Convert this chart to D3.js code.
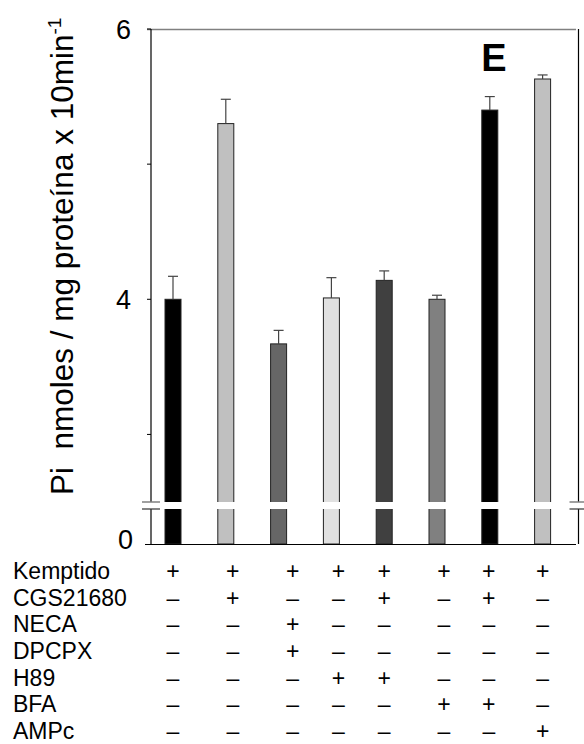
<!DOCTYPE html>
<html>
<head>
<meta charset="utf-8">
<script src="https://cdn.jsdelivr.net/npm/d3@7"></script>
<style>
  html, body { margin: 0; padding: 0; background: #fff; }
  svg { display: block; font-family: "Liberation Sans", Arial, sans-serif; }
</style>
</head>
<body>
<svg id="chart" width="584" height="744"></svg>
<script>
// Phosphate release (Pi nmoles / mg protein x 10 min^-1) per treatment group
const groups = ["g1", "g2", "g3", "g4", "g5", "g6", "g7", "g8"];
const values = [4.00, 5.30, 3.67, 4.01, 4.14, 4.00, 5.40, 5.63];
const errors = [0.17, 0.18, 0.10, 0.15, 0.07, 0.03, 0.10, 0.03];

// Treatment table: which compounds were present in each group
const treatments = ["Kemptido", "CGS21680", "NECA", "DPCPX", "H89", "BFA", "AMPc"];
const presence = [
  ["+", "+", "+", "+", "+", "+", "+", "+"],
  ["–", "+", "–", "–", "+", "–", "+", "–"],
  ["–", "–", "+", "–", "–", "–", "–", "–"],
  ["–", "–", "+", "–", "–", "–", "–", "–"],
  ["–", "–", "–", "+", "+", "–", "–", "–"],
  ["–", "–", "–", "–", "–", "+", "+", "–"],
  ["–", "–", "–", "–", "–", "–", "–", "+"]
];

// Axis ticks (broken axis: 0 below the break, 2.5–6 above)
const upperTicks = [3, 4, 5, 6];
const upperTickLabels = ["4", "6"];
const lowerTickLabels = ["0"];

// Styling
const barFills = ["#000000", "#c0c0c0", "#666666", "#e0e0e0", "#404040", "#808080", "#000000", "#c0c0c0"];
const columnNudge = [0, 7, 14, 7, 0, 7, -1, 0];

const svg = d3.select("#chart");

const axLeft = 151, axRight = 578.5, plotTop = 29, plotBottom = 544;
const breakTop = 502, breakBottom = 509;

const x = d3.scalePoint().domain(groups).range([146.6, 569]).padding(0.5);
const barW = 16;

// Upper segment of the broken axis
const y = d3.scaleLinear().domain([2.5, 6]).range([breakTop, plotTop]);
// Lower segment: from 0 up to the break
const yLow = d3.scaleLinear().domain([0, 0.26]).range([plotBottom, breakBottom]);

// Bars (full height, the break band is blanked afterwards)
const gBars = svg.append("g");
gBars.selectAll("rect")
  .data(groups)
  .join("rect")
  .attr("x", d => x(d) - barW / 2)
  .attr("width", barW)
  .attr("y", (d, i) => y(values[i]))
  .attr("height", (d, i) => yLow(0) - y(values[i]))
  .attr("fill", (d, i) => barFills[i])
  .attr("stroke", "#222")
  .attr("stroke-width", 1);

// Error bars (upper side only)
const gErr = svg.append("g").attr("stroke", "#444").attr("stroke-width", 1.2);
groups.forEach((g, i) => {
  const cx = x(g);
  gErr.append("line")
    .attr("x1", cx).attr("x2", cx)
    .attr("y1", y(values[i])).attr("y2", y(values[i] + errors[i]));
  gErr.append("line")
    .attr("x1", cx - 5).attr("x2", cx + 5)
    .attr("y1", y(values[i] + errors[i])).attr("y2", y(values[i] + errors[i]));
});

// Top frame line
svg.append("line")
  .attr("x1", 147).attr("x2", 576)
  .attr("y1", plotTop + 0.5).attr("y2", plotTop + 0.5)
  .attr("stroke", "#808080").attr("stroke-width", 1.5);

// Left and right axis lines (interrupted at the break)
[axLeft, axRight].forEach(ax => {
  svg.append("line").attr("x1", ax).attr("x2", ax)
    .attr("y1", plotTop).attr("y2", breakTop)
    .attr("stroke", "#000").attr("stroke-width", 1.2);
  svg.append("line").attr("x1", ax).attr("x2", ax)
    .attr("y1", breakBottom).attr("y2", plotBottom)
    .attr("stroke", "#000").attr("stroke-width", 1.2);
});

// Baseline
svg.append("line")
  .attr("x1", 145).attr("x2", 576)
  .attr("y1", plotBottom + 0.5).attr("y2", plotBottom + 0.5)
  .attr("stroke", "#000").attr("stroke-width", 1.2);

// Break band across the bars
svg.append("rect")
  .attr("x", axLeft + 1).attr("width", axRight - axLeft - 2)
  .attr("y", breakTop).attr("height", breakBottom - breakTop)
  .attr("fill", "#fff");

// Break marks on both axes
[axLeft, axRight].forEach(ax => {
  svg.append("line").attr("x1", ax - 9).attr("x2", ax + 9)
    .attr("y1", breakTop).attr("y2", breakTop)
    .attr("stroke", "#808080").attr("stroke-width", 1.5);
  svg.append("line").attr("x1", ax - 9).attr("x2", ax + 9)
    .attr("y1", breakBottom).attr("y2", breakBottom)
    .attr("stroke", "#333").attr("stroke-width", 1.2);
});

// Y tick marks and labels
const gTicks = svg.append("g");
upperTicks.forEach(t => {
  gTicks.append("line")
    .attr("x1", axLeft - 4).attr("x2", axLeft)
    .attr("y1", y(t)).attr("y2", y(t))
    .attr("stroke", "#000").attr("stroke-width", 1);
});
upperTickLabels.forEach(t => {
  gTicks.append("text")
    .attr("x", 131).attr("y", y(+t)).attr("dy", "0.36em")
    .attr("text-anchor", "end")
    .attr("font-size", 27)
    .text(t);
});
lowerTickLabels.forEach(t => {
  gTicks.append("text")
    .attr("x", 133).attr("y", yLow(+t) - 5).attr("dy", "0.36em")
    .attr("text-anchor", "end")
    .attr("font-size", 27)
    .text(t);
});

// Y axis title
const title = svg.append("text")
  .attr("transform", "translate(73,495) rotate(-90)")
  .attr("font-size", 31.5)
  .attr("text-anchor", "start")
  .attr("xml:space", "preserve");
title.append("tspan").text("Pi  nmoles / mg proteína x 10min");
title.append("tspan").attr("font-size", 19).attr("dy", -12).text("-1");

// Panel letter
svg.append("text")
  .attr("x", 494).attr("y", 71)
  .attr("text-anchor", "middle")
  .attr("font-size", 38).attr("font-weight", "bold")
  .text("E");

// Treatment table
const rowY = d3.scalePoint().domain(treatments).range([579, 739]);
const gTable = svg.append("g").attr("font-size", 23);
treatments.forEach((t, r) => {
  gTable.append("text")
    .attr("x", 13).attr("y", rowY(t))
    .text(t);
  presence[r].forEach((s, c) => {
    gTable.append("text")
      .attr("x", x(groups[c]) + columnNudge[c]).attr("y", rowY(t))
      .attr("text-anchor", "middle")
      .text(s);
  });
});
</script>
</body>
</html>
